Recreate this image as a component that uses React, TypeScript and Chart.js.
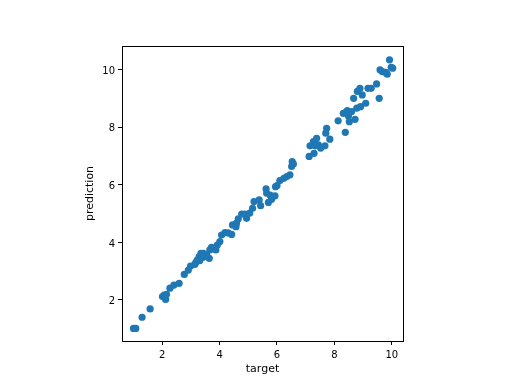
import React, { useEffect, useRef } from "react";
import { Chart, registerables } from "chart.js";

Chart.register(...registerables);

const targets: number[] = [
  1.0, 1.08, 1.3, 1.58, 2.01, 2.07, 2.12, 2.15, 2.27, 2.41, 2.59, 2.77, 2.91, 2.99, 3.14,
  3.22, 3.29, 3.35, 3.43, 3.49, 3.55, 3.64, 3.31, 3.17, 3.4, 3.66, 3.72, 3.87, 3.92, 4.01,
  4.07, 4.19, 4.42, 4.45, 4.59, 4.57, 4.65, 4.77, 4.94, 4.88, 5.15, 5.2, 5.38, 5.43, 5.62,
  5.64, 5.76, 5.7, 5.81, 5.93, 5.95, 6.1, 6.24, 6.34, 6.45, 6.51, 6.53, 6.57, 7.12, 7.15,
  7.29, 7.27, 7.38, 7.44, 7.33, 7.52, 7.67, 7.73, 7.7, 7.84, 8.13, 8.31, 8.38, 8.45, 8.49,
  8.52, 8.6, 8.72, 8.78, 8.67, 8.8, 8.89, 8.97, 8.91, 9.09, 9.17, 9.28, 9.47, 9.56, 9.59,
  9.67, 9.79, 9.84, 9.92, 9.98, 10.03, 4.3, 5.05, 6.0, 8.4
];

const predictions: number[] = [
  1.01, 1.01, 1.4, 1.69, 2.12, 2.17, 2.02, 2.2, 2.41, 2.52, 2.58, 2.89, 3.04, 3.18, 3.24,
  3.39, 3.51, 3.62, 3.62, 3.51, 3.57, 3.45, 3.37, 3.3, 3.48, 3.74, 3.83, 3.74, 3.91, 4.03,
  4.26, 4.34, 4.28, 4.61, 4.67, 4.55, 4.82, 4.99, 4.84, 4.99, 5.19, 5.42, 5.48, 5.28, 5.86,
  5.71, 5.65, 5.39, 5.5, 5.62, 5.94, 6.15, 6.23, 6.29, 6.35, 6.64, 6.81, 6.73, 6.99, 7.36,
  7.1, 7.51, 7.62, 7.39, 7.36, 7.28, 7.36, 7.97, 7.8, 7.59, 8.23, 8.49, 7.83, 8.58, 8.4,
  8.2, 8.55, 8.28, 8.67, 9.01, 9.25, 9.36, 9.13, 8.72, 8.84, 9.36, 9.36, 9.51, 9.01, 10.0,
  9.94, 9.91, 9.85, 10.35, 10.09, 10.06, 4.33, 5.02, 5.98, 8.52
];

const tickValues: number[] = [2, 4, 6, 8, 10];

const framePlugin = {
  id: "frame",
  afterDraw(chart: any) {
    const { ctx, chartArea } = chart;
    ctx.save();
    ctx.strokeStyle = "#000";
    ctx.lineWidth = 1;
    ctx.strokeRect(
      Math.round(chartArea.left) + 0.5,
      Math.round(chartArea.top) + 0.5,
      Math.round(chartArea.right - chartArea.left),
      Math.round(chartArea.bottom - chartArea.top)
    );
    ctx.restore();
  },
};

export default function App() {
  const ref = useRef<HTMLCanvasElement | null>(null);

  useEffect(() => {
    document.body.style.margin = "0";
    if (!ref.current) return;
    const font = { family: "DejaVu Sans", size: 10 };
    const chart = new Chart(ref.current, {
      type: "scatter",
      data: {
        datasets: [
          {
            data: targets.map((t, i) => ({ x: t, y: predictions[i] })),
            backgroundColor: "#1f77b4",
            borderColor: "#1f77b4",
            borderWidth: 0,
            pointRadius: 3.6,
            pointHoverRadius: 3.6,
          },
        ],
      },
      options: {
        animation: false,
        responsive: false,
        maintainAspectRatio: false,
        events: [],
        layout: { padding: { left: 82, right: 109, top: 46, bottom: 0 } },
        plugins: { legend: { display: false }, tooltip: { enabled: false } },
        scales: {
          x: {
            type: "linear",
            min: 0.6,
            max: 10.39,
            afterBuildTicks: (scale: any) => {
              scale.ticks = tickValues.map((v) => ({ value: v }));
            },
            afterFit: (scale: any) => {
              scale.height = 43;
            },
            grid: { display: true, drawOnChartArea: false, drawTicks: true, tickLength: 4, color: "#000" },
            border: { display: true, color: "#000" },
            ticks: { color: "#000", font, padding: 4, maxRotation: 0, autoSkip: false },
            title: { display: true, text: "target", color: "#000", font: { family: "DejaVu Sans", size: 11 }, padding: { top: 0, bottom: 8 } },
          },
          y: {
            type: "linear",
            min: 0.574,
            max: 10.83,
            afterBuildTicks: (scale: any) => {
              scale.ticks = tickValues.map((v) => ({ value: v }));
            },
            afterFit: (scale: any) => {
              scale.width = 40;
            },
            grid: { display: true, drawOnChartArea: false, drawTicks: true, tickLength: 4, color: "#000" },
            border: { display: true, color: "#000" },
            ticks: { color: "#000", font, padding: 3, autoSkip: false, labelOffset: 1.5 },
            title: { display: true, text: "prediction", color: "#000", font: { family: "DejaVu Sans", size: 11 }, padding: { top: 2, bottom: 0 } },
          },
        },
      },
      plugins: [framePlugin],
    });
    return () => chart.destroy();
  }, []);

  return (
    <div style={{ width: 512, height: 384 }}>
      <canvas ref={ref} width={512} height={384} style={{ width: 512, height: 384, display: "block" }} />
    </div>
  );
}
